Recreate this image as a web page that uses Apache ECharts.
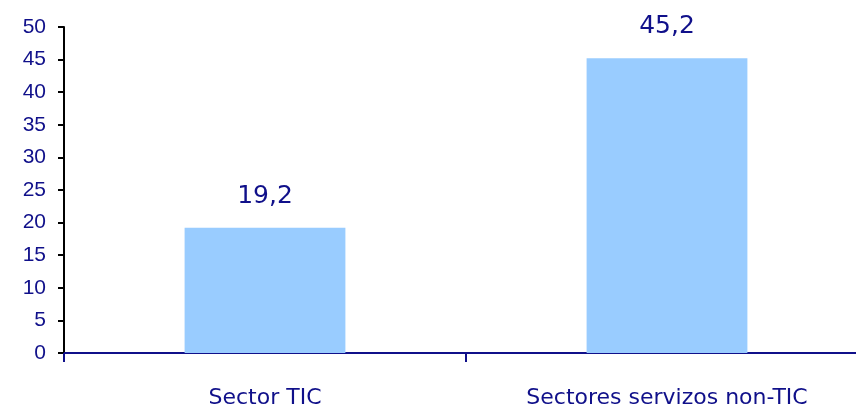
<!DOCTYPE html>
<html>
<head>
<meta charset="utf-8">
<script src="https://cdn.jsdelivr.net/npm/echarts@6/dist/echarts.min.js"></script>
<style>
  html, body { margin: 0; padding: 0; background: #fff; overflow: hidden; }
  /* plot runs a little past the right edge, like the original */
  #main { width: 868px; height: 412px; }
</style>
</head>
<body>
<div id="main"></div>
<script>
const categories = ['Sector TIC', 'Sectores servizos non-TIC'];
const values = [19.2, 45.2];

const navy = '#10108a';
const chart = echarts.init(document.getElementById('main'));
chart.setOption({
  animation: false,
  grid: { left: 64, right: 0, top: 27, bottom: 59 },
  xAxis: {
    type: 'category',
    data: categories,
    axisLine: { lineStyle: { color: navy, width: 2 } },
    axisTick: { show: true, length: 9, lineStyle: { color: navy, width: 2 } },
    axisLabel: { color: navy, fontFamily: 'DejaVu Sans', fontSize: 22, margin: 34 }
  },
  yAxis: {
    type: 'value',
    min: 0, max: 50, interval: 5,
    splitLine: { show: false },
    axisLine: { show: true, lineStyle: { color: '#000', width: 2 } },
    axisTick: { show: true, length: 6, lineStyle: { color: '#000', width: 2 } },
    axisLabel: { color: navy, fontFamily: 'Liberation Sans', fontSize: 21, margin: 18 }
  },
  series: [{
    type: 'bar',
    data: values,
    barWidth: '40%',
    itemStyle: { color: '#99ccff' },
    label: {
      show: true, position: 'top', distance: 19,
      color: navy, fontFamily: 'DejaVu Sans', fontSize: 25,
      formatter: p => String(p.value).replace('.', ',')
    }
  }]
});
</script>
</body>
</html>
